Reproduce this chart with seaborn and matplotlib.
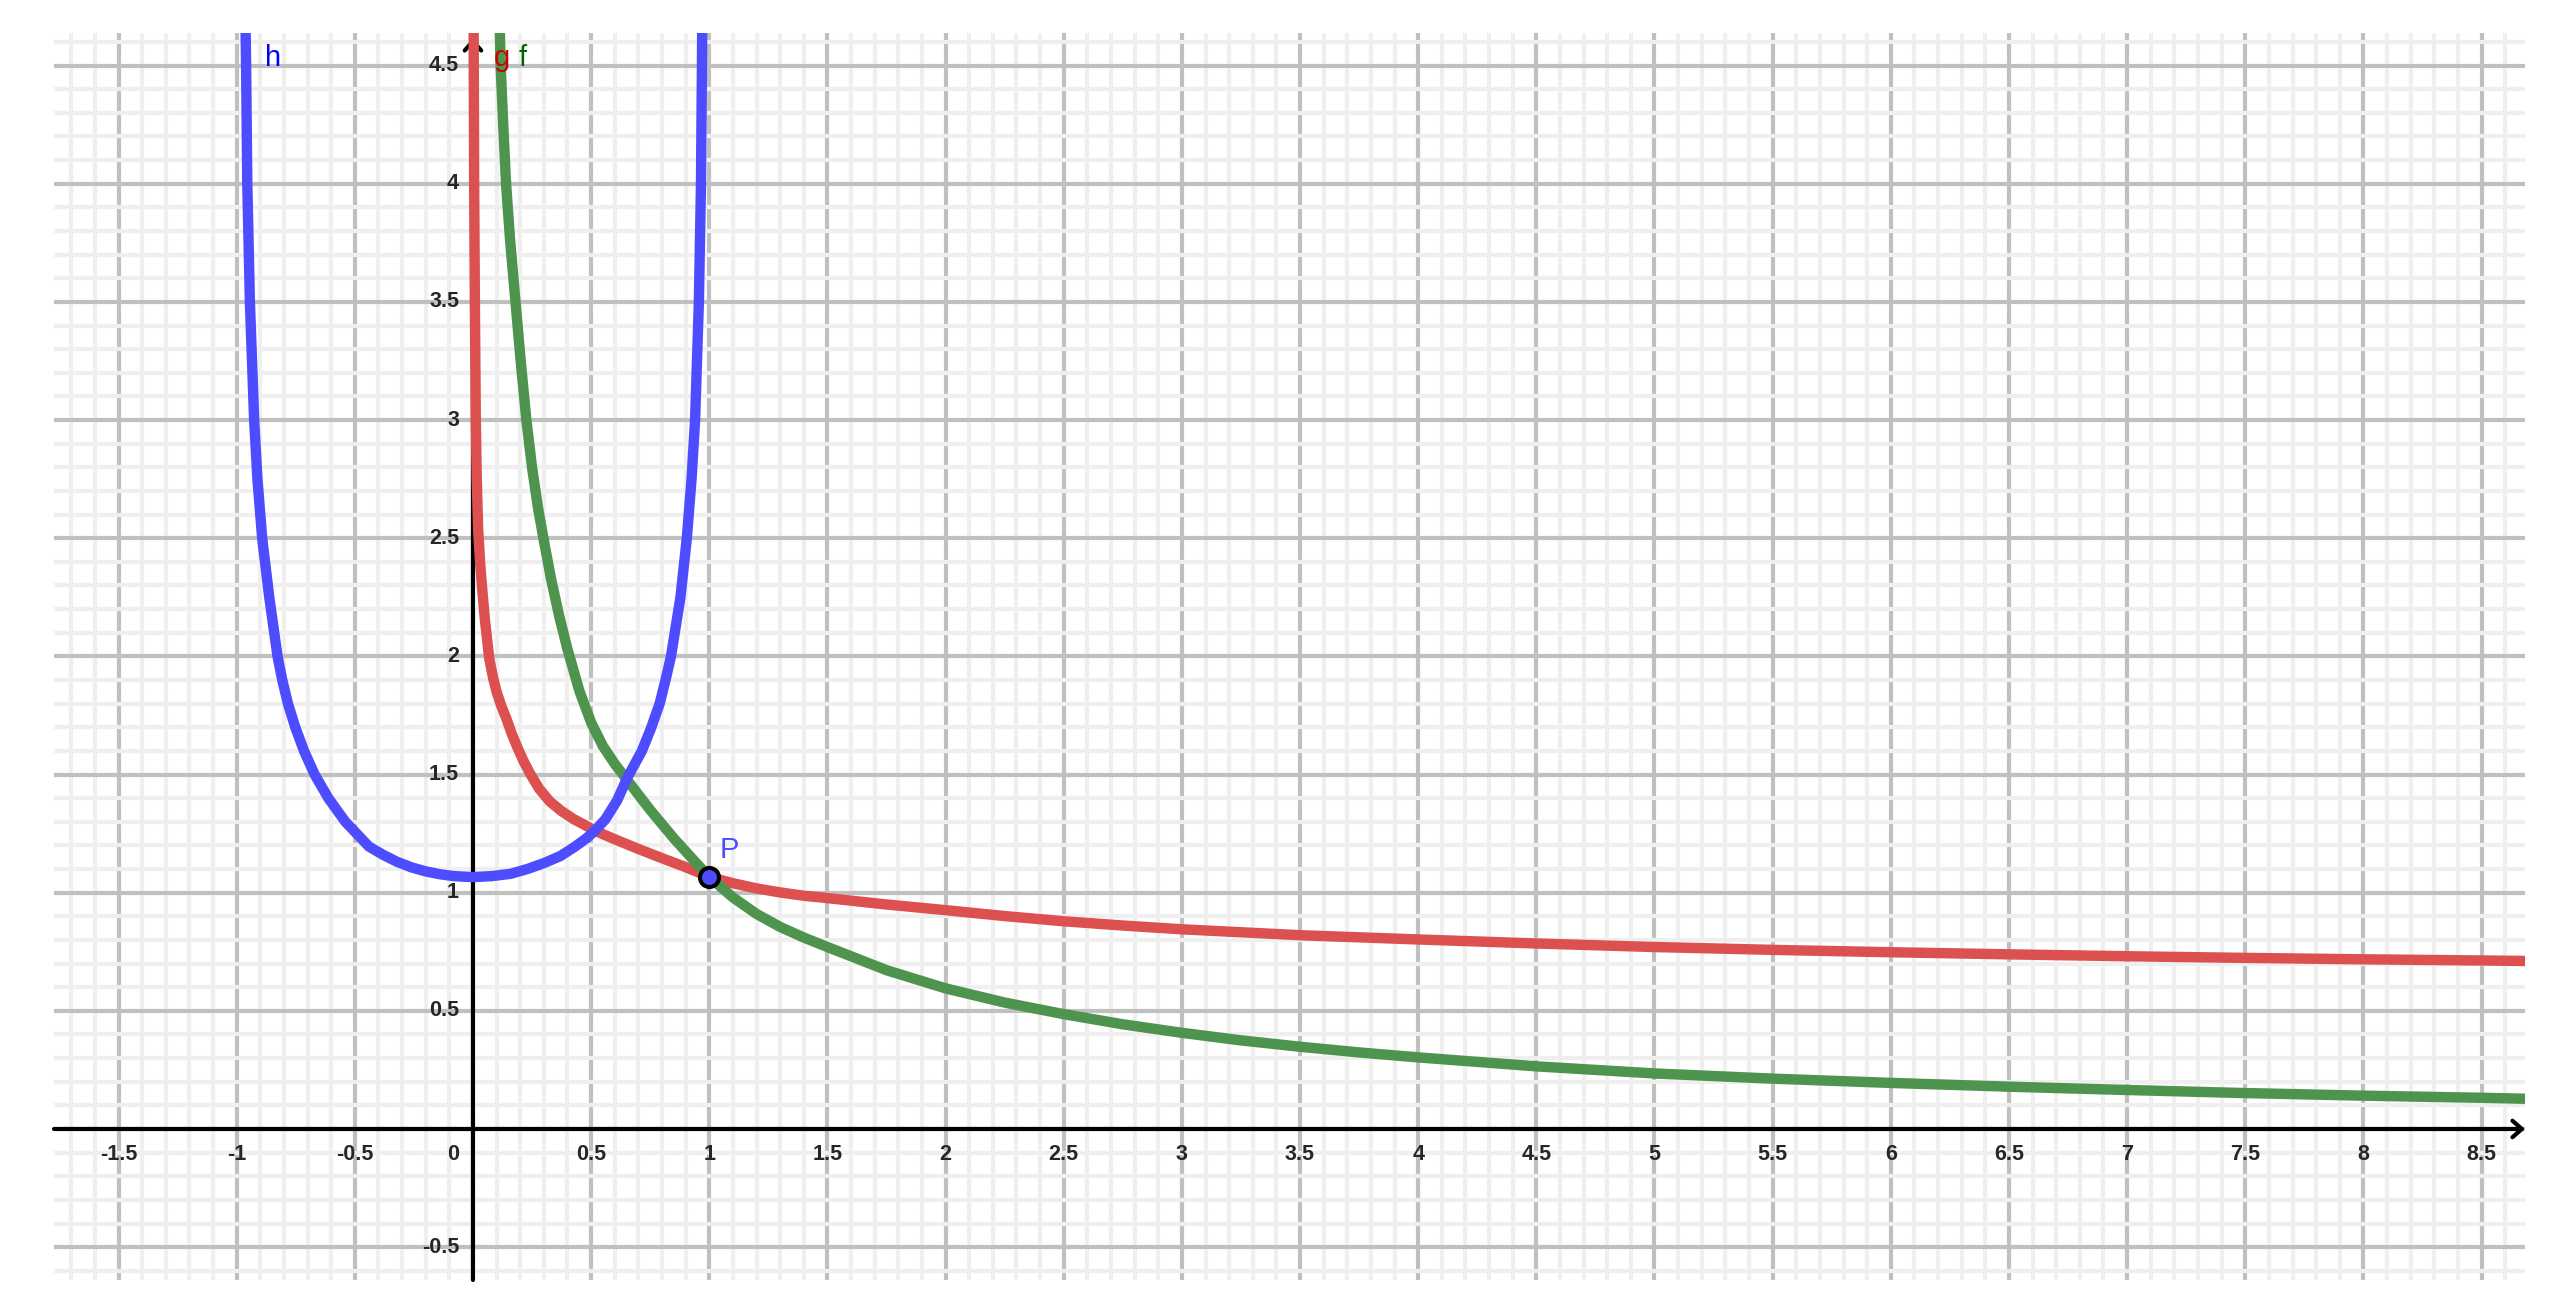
import matplotlib
matplotlib.use("Agg")
import matplotlib.pyplot as plt
from matplotlib.ticker import MultipleLocator
import seaborn as sns

sns.set_style("white")
plt.rcParams["font.family"] = ["Liberation Sans", "DejaVu Sans"]

# curve h (blue)
h_x = [-0.962, -0.960, -0.955, -0.944, -0.926, -0.912, -0.892, -0.862, -0.827, -0.807,
       -0.783, -0.752, -0.715, -0.670, -0.612, -0.540, -0.440, -0.380, -0.320, -0.260,
       -0.200, -0.140, -0.080, 0.0, 0.080, 0.160, 0.230, 0.300, 0.370, 0.432,
       0.480, 0.516, 0.560, 0.610, 0.655, 0.715, 0.755, 0.790, 0.815, 0.838,
       0.878, 0.905, 0.925, 0.940, 0.956, 0.965, 0.969, 0.970]
h_y = [4.637, 4.5, 4.0, 3.5, 3.0, 2.75, 2.5, 2.25, 2.0, 1.9,
       1.8, 1.7, 1.6, 1.5, 1.4, 1.3, 1.195, 1.16, 1.13, 1.107,
       1.09, 1.078, 1.07, 1.066, 1.07, 1.08, 1.10, 1.125, 1.155, 1.195,
       1.23, 1.262, 1.31, 1.39, 1.49, 1.6, 1.7, 1.8, 1.9, 2.0,
       2.25, 2.5, 2.75, 3.0, 3.5, 4.0, 4.5, 4.637]

# curve g (red)
g_x = [0.003, 0.005, 0.008, 0.012, 0.016, 0.022, 0.030, 0.037, 0.050, 0.069,
       0.085, 0.100, 0.120, 0.140, 0.165, 0.190, 0.215, 0.241, 0.280, 0.326,
       0.375, 0.425, 0.470, 0.516, 0.600, 0.700, 0.800, 0.900, 1.0, 1.1,
       1.2, 1.3, 1.4, 1.5, 1.75, 2.0, 2.25, 2.5, 2.75, 3.0,
       3.5, 4.0, 4.5, 5.0, 5.5, 6.0, 6.5, 7.0, 7.5, 8.0, 8.5, 8.684]
g_y = [4.637, 4.0, 3.5, 3.0, 2.75, 2.535, 2.40, 2.31, 2.16, 1.99,
       1.91, 1.85, 1.79, 1.74, 1.67, 1.61, 1.555, 1.505, 1.44, 1.385,
       1.345, 1.312, 1.288, 1.262, 1.226, 1.185, 1.146, 1.108, 1.067, 1.04,
       1.018, 1.001, 0.987, 0.977, 0.95, 0.926, 0.901, 0.879, 0.861, 0.845,
       0.82, 0.802, 0.785, 0.77, 0.758, 0.748, 0.739, 0.731, 0.724, 0.718, 0.713, 0.711]

# curve f (green)
f_x = [0.114, 0.117, 0.128, 0.140, 0.158, 0.180, 0.202, 0.226, 0.250, 0.275,
       0.300, 0.330, 0.365, 0.400, 0.450, 0.500, 0.550, 0.600, 0.650, 0.750,
       0.850, 0.950, 1.0, 1.1, 1.2, 1.3, 1.4, 1.5, 1.75, 2.0,
       2.25, 2.5, 2.75, 3.0, 3.25, 3.5, 3.75, 4.0, 4.5, 5.0,
       5.5, 6.0, 6.5, 7.0, 7.5, 8.0, 8.5, 8.684]
f_y = [4.637, 4.5, 4.25, 4.0, 3.75, 3.5, 3.25, 3.0, 2.8, 2.63,
       2.49, 2.33, 2.17, 2.03, 1.855, 1.72, 1.62, 1.545, 1.48, 1.35,
       1.23, 1.12, 1.067, 0.98, 0.91, 0.855, 0.81, 0.77, 0.672, 0.595,
       0.535, 0.486, 0.443, 0.407, 0.375, 0.348, 0.324, 0.303, 0.265, 0.235,
       0.213, 0.195, 0.179, 0.165, 0.152, 0.141, 0.132, 0.128]

# point P
p_x = [1.0]
p_y = [1.067]

x_tick_values = [-1.5, -1, -0.5, 0.5, 1, 1.5, 2, 2.5, 3, 3.5, 4, 4.5, 5, 5.5, 6, 6.5, 7, 7.5, 8, 8.5]
y_tick_values = [-0.5, 0.5, 1, 1.5, 2, 2.5, 3, 3.5, 4, 4.5]

x_min, x_max = -1.773, 8.684
y_min, y_max = -0.639, 4.638

fig = plt.figure(figsize=(25.66, 13.02), dpi=100)
ax = fig.add_axes([0.02104, 0.0169, 0.963, 0.9578])
ax.set_xlim(x_min, x_max)
ax.set_ylim(y_min, y_max)

for spine in ax.spines.values():
    spine.set_visible(False)

# grid: light minor lines every 0.1, grey major lines every 0.5
for axis in (ax.xaxis, ax.yaxis):
    axis.set_major_locator(MultipleLocator(0.5))
    axis.set_minor_locator(MultipleLocator(0.1))
ax.tick_params(which="both", length=0, labelbottom=False, labelleft=False)
ax.grid(which="major", color="#c0c0c0", lw=3)
ax.grid(which="minor", color="#efefef", lw=3)
ax.set_axisbelow(True)

# coordinate axes with arrow heads
arrow = dict(arrowstyle="->,head_length=0.4,head_width=0.35", lw=3, color="black",
             shrinkA=0, shrinkB=0, mutation_scale=17)
ax.annotate("", xy=(x_max, 0), xytext=(x_min, 0), arrowprops=arrow, annotation_clip=False, zorder=2)
ax.annotate("", xy=(0, 4.617), xytext=(0, y_min), arrowprops=arrow, annotation_clip=False, zorder=2)

# tick labels along the axes
for v in x_tick_values:
    ax.annotate(f"{v:g}", xy=(v, 0), xytext=(0, -11), textcoords="offset points",
                ha="center", va="top", fontsize=15.5, fontweight="bold")
ax.annotate("0", xy=(0, 0), xytext=(-10, -11), textcoords="offset points",
            ha="right", va="top", fontsize=15.5, fontweight="bold")
for v in y_tick_values:
    ax.annotate(f"{v:g}", xy=(0, v), xytext=(-10, 0), textcoords="offset points",
                ha="right", va="center", fontsize=15.5, fontweight="bold")

# curves
line_kw = dict(sort=False, estimator=None, lw=7.5, solid_joinstyle="round", ax=ax)
sns.lineplot(x=g_x, y=g_y, color="#dc5050", zorder=3, **line_kw)
sns.lineplot(x=f_x, y=f_y, color="#4e944e", zorder=4, **line_kw)
sns.lineplot(x=h_x, y=h_y, color="#4d4dff", zorder=5, **line_kw)

sns.scatterplot(x=p_x, y=p_y, s=188, color="#4d4dff", edgecolor="black", linewidth=2.9,
                zorder=7, ax=ax)

# curve and point labels
label_kw = dict(fontsize=21, va="baseline", zorder=10)
ax.text(-0.880, 4.50, "h", color="#0000ff", **label_kw)
ax.text(0.086, 4.50, "g", color="#cc0000", **label_kw)
ax.text(0.192, 4.50, "f", color="#006400", **label_kw)
ax.text(1.045, 1.147, "P", color="#4d4dff", **label_kw)

fig.savefig("out.png", dpi=100)
